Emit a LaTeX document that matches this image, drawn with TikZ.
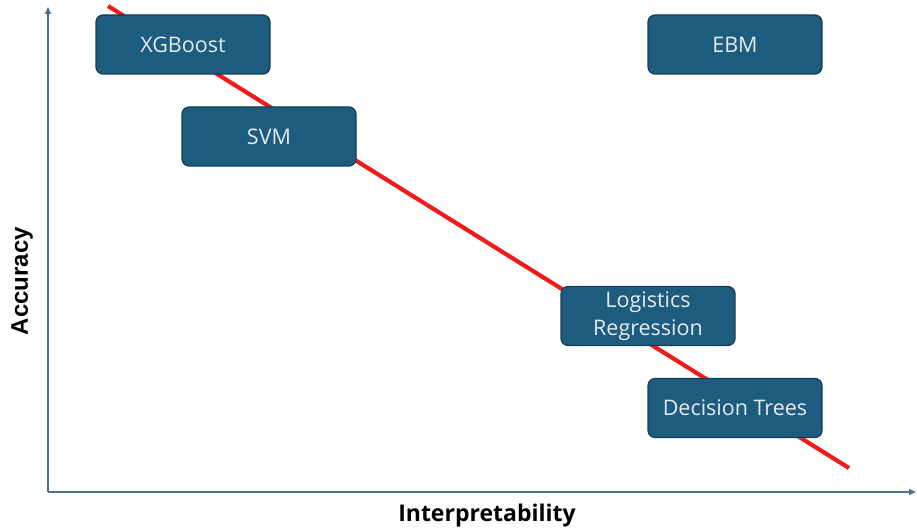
\documentclass[tikz,border=0pt]{standalone}
\usepackage{fontspec}
\setmainfont{Open Sans}
\newfontfamily\labelfont{Liberation Sans}
\usetikzlibrary{arrows.meta}
\definecolor{boxblue}{HTML}{1D5C7E}
\definecolor{boxedge}{HTML}{163F55}
\definecolor{axisblue}{HTML}{4A7391}
\definecolor{trendred}{HTML}{EE1C1C}
\begin{document}
\begin{tikzpicture}
[x=1pt,y=1pt,
  modeldecorate/.style={shape=rectangle,rounded corners=7pt,draw=boxedge,
    line width=1.2pt,fill=boxblue,text=white!88!boxblue,
    minimum width=174pt,minimum height=59pt,align=center,
    font=\fontsize{21.5}{28.5}\selectfont},
  axisdecorate/.style={draw=axisblue,line width=1.4pt,
    -{Triangle[length=7pt,width=6pt]}},
  trenddecorate/.style={draw=trendred,line width=4.2pt}]
\useasboundingbox (0,0) rectangle (917,531);
%% axes
\coordinate (origin) at (48,39);
\coordinate (ytip) at (48,524);
\coordinate (xtip) at (916,39);
\draw[axisdecorate] (origin) -- (ytip);
\draw[axisdecorate] (origin) -- (xtip);
\node (xlabel) at (487,15) {\bfseries\fontsize{23}{26}\selectfont Interpretability};
\node (ylabel) at (22,250) [rotate=90] {\labelfont\bfseries\fontsize{24}{28}\selectfont Accuracy};
%% trade-off line
\coordinate (trendstart) at (108,525);
\coordinate (trendend) at (849,63);
\draw[trenddecorate] (trendstart) -- (trendend);
%% model boxes
\foreach \nodename/\x/\y/\nodetext in {xgb/183/486.5/XGBoost,
  ebm/735/486.5/EBM, svm/269/394.5/SVM,
  logreg/648/215/{Logistics\\Regression},
  dtree/735/123/Decision Trees}
{
  \node (\nodename) at (\x,\y) [modeldecorate] {\nodetext};
}
\end{tikzpicture}
\end{document}
